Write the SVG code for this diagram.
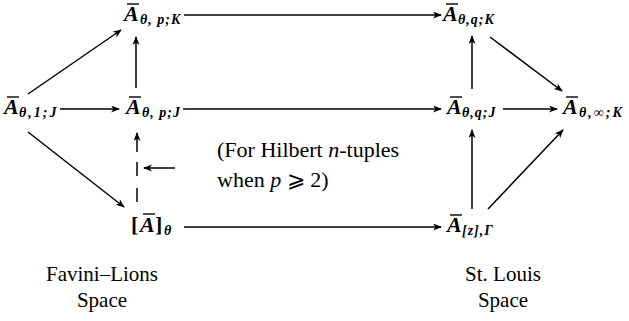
<svg xmlns="http://www.w3.org/2000/svg" width="629" height="321" viewBox="0 0 629 321">
<style>
.A{font-weight:bold;font-style:italic;font-size:22px;fill:#000}
.s{font-weight:bold;font-style:italic;font-size:14px;fill:#000;letter-spacing:1px}
.t{font-size:22px;fill:#000}
.c{font-size:21px;fill:#000;text-anchor:middle}
.bar{stroke:#000;stroke-width:1.4}
.e{stroke:#000;stroke-width:1.5;fill:none}
.ea{stroke:#000;stroke-width:1.5;fill:none;marker-end:url(#ah)}
</style>
<defs>
<marker id="ah" markerUnits="userSpaceOnUse" markerWidth="10" markerHeight="8" refX="8" refY="3.5" orient="auto" viewBox="0 0 10 8">
<path d="M0,0 L9,3.5 L0,7 L2.5,3.5 z" fill="#000"/>
</marker>
</defs>
<g id="edges">
<line class="ea" x1="184" y1="15" x2="441" y2="15"/>
<line class="ea" x1="183" y1="109" x2="441" y2="109"/>
<line class="ea" x1="60" y1="109" x2="119" y2="109"/>
<line class="ea" x1="503" y1="109" x2="557" y2="109"/>
<line class="ea" x1="28" y1="94" x2="121" y2="30"/>
<line class="ea" x1="136" y1="88" x2="136" y2="37"/>
<line class="ea" x1="28" y1="132" x2="124" y2="207"/>
<line class="e" x1="137" y1="202" x2="137" y2="188"/>
<line class="e" x1="137" y1="176" x2="137" y2="162"/>
<line class="ea" x1="137" y1="152" x2="137" y2="133"/>
<line class="ea" x1="175" y1="168" x2="144" y2="168"/>
<line class="ea" x1="184" y1="227" x2="441" y2="227"/>
<line class="ea" x1="472" y1="89" x2="472" y2="36"/>
<line class="ea" x1="490" y1="37" x2="562" y2="91"/>
<line class="ea" x1="472" y1="209" x2="472" y2="130"/>
<line class="ea" x1="488" y1="209" x2="563" y2="130"/>
</g>
<g id="nodes" font-family="Liberation Serif, serif">
<g id="n-ApK">
<line class="bar" x1="127" y1="4" x2="139" y2="4"/>
<text class="A" x="124" y="21">A</text>
<text class="s" x="140" y="24">θ, p;K</text>
</g>
<g id="n-AqK">
<line class="bar" x1="446" y1="4" x2="458" y2="4"/>
<text class="A" x="443" y="21">A</text>
<text class="s" x="458" y="24">θ,q;K</text>
</g>
<g id="n-A1J">
<line class="bar" x1="7" y1="97" x2="19" y2="97"/>
<text class="A" x="4" y="114">A</text>
<text class="s" x="19" y="117" style="letter-spacing:2px">θ,1;J</text>
</g>
<g id="n-ApJ">
<line class="bar" x1="129" y1="97" x2="141" y2="97"/>
<text class="A" x="126" y="114">A</text>
<text class="s" x="142" y="117">θ, p;J</text>
</g>
<g id="n-AqJ">
<line class="bar" x1="450" y1="97" x2="462" y2="97"/>
<text class="A" x="447" y="114">A</text>
<text class="s" x="462" y="117">θ,q;J</text>
</g>
<g id="n-AinfK">
<line class="bar" x1="566" y1="97" x2="578" y2="97"/>
<text class="A" x="563" y="114">A</text>
<text class="s" x="579" y="117" style="letter-spacing:2px">θ,∞;K</text>
</g>
<g id="n-Atheta">
<line class="bar" x1="143" y1="214" x2="155" y2="214"/>
<text class="A" x="131" y="232" style="font-style:normal">[</text>
<text class="A" x="140" y="232">A</text>
<text class="A" x="155" y="232" style="font-style:normal">]</text>
<text class="s" x="164" y="235">θ</text>
</g>
<g id="n-Az">
<line class="bar" x1="450" y1="215" x2="462" y2="215"/>
<text class="A" x="447" y="232">A</text>
<text class="s" x="462" y="235">[z],Γ</text>
</g>
</g>
<g id="labels" font-family="Liberation Serif, serif">
<text class="t" x="217" y="157">(For Hilbert <tspan font-style="italic">n</tspan>-tuples</text>
<text class="t" x="217" y="187">when <tspan font-style="italic">p</tspan> ⩾ 2)</text>
<text class="c" x="102" y="281">Favini–Lions</text>
<text class="c" x="102" y="307">Space</text>
<text class="c" x="503" y="281">St. Louis</text>
<text class="c" x="503" y="307">Space</text>
</g>
</svg>
